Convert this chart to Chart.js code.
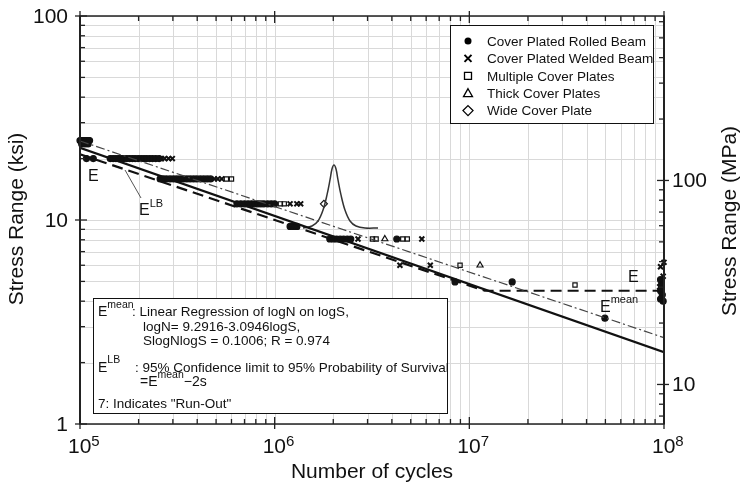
<!DOCTYPE html>
<html>
<head>
<meta charset="utf-8">
<script src="https://cdn.jsdelivr.net/npm/chart.js@4.4.1/dist/chart.umd.min.js"></script>
<style>
  html, body { margin: 0; padding: 0; background: #fff; }
  #chart { display: block; }
</style>
</head>
<body>
<canvas id="chart" width="740" height="488"></canvas>
<script>
// axes
const xDecades = [1e5, 1e6, 1e7, 1e8];
const xExponents = ["5", "6", "7", "8"];
const yDecades = [1, 10, 100];
const yLabels = ["1", "10", "100"];
const mpaDecades = [10, 100];
const mpaLabels = ["10", "100"];
const minorSteps = [2, 3, 4, 5, 6, 7, 8, 9];
const MPA_MIN = 6.4, MPA_MAX = 640;

// Cover Plated Rolled Beam (filled circles)
const rolledN = [1.0e5, 1.015e5, 1.03e5, 1.045e5, 1.06e5, 1.075e5, 1.09e5, 1.105e5, 1.12e5, 1.02e5, 1.06e5, 1.1e5,
  1.08e5, 1.17e5,
  1.43e5, 1.48e5, 1.53e5, 1.58e5, 1.63e5, 1.68e5, 1.74e5, 1.8e5, 1.86e5, 1.92e5, 1.99e5, 2.06e5, 2.13e5, 2.2e5, 2.28e5, 2.36e5, 2.45e5, 2.55e5,
  2.58e5, 2.68e5, 2.78e5, 2.9e5, 3.02e5, 3.14e5, 3.27e5, 3.4e5, 3.54e5, 3.68e5, 3.83e5, 3.98e5, 4.15e5, 4.32e5, 4.5e5, 4.68e5,
  6.4e5, 6.7e5, 7.0e5, 7.3e5, 7.6e5, 7.9e5, 8.2e5, 8.5e5, 8.8e5, 9.2e5, 9.6e5, 1.0e6,
  1.2e6, 1.25e6, 1.3e6,
  1.92e6, 2.0e6, 2.08e6, 2.17e6, 2.26e6, 2.36e6, 2.46e6, 4.24e6,
  8.44e6, 1.66e7, 4.97e7,
  9.6e7, 9.7e7, 9.6e7, 9.8e7, 9.6e7, 9.9e7];
const rolledS = [24.5, 24.5, 24.5, 24.5, 24.5, 24.5, 24.5, 24.5, 24.5, 23.6, 23.6, 23.6,
  20, 20,
  20, 20, 20, 20, 20, 20, 20, 20, 20, 20, 20, 20, 20, 20, 20, 20, 20, 20,
  15.9, 15.9, 15.9, 15.9, 15.9, 15.9, 15.9, 15.9, 15.9, 15.9, 15.9, 15.9, 15.9, 15.9, 15.9, 15.9,
  12, 12, 12, 12, 12, 12, 12, 12, 12, 12, 12, 12,
  9.3, 9.3, 9.3,
  8.07, 8.07, 8.07, 8.07, 8.07, 8.07, 8.07, 8.07,
  4.97, 4.97, 3.3,
  5.1, 4.8, 4.5, 4.3, 4.1, 4.0];

// Cover Plated Welded Beam (crosses)
const weldedN = [2.62e5, 2.72e5, 2.85e5, 2.98e5, 4.9e5, 5.1e5, 5.35e5, 1.2e6, 1.3e6, 1.36e6, 2.68e6, 5.7e6, 4.4e6, 6.3e6, 1.0e8, 9.6e7, 9.9e7, 9.5e7];
const weldedS = [20, 20, 20, 20, 15.9, 15.9, 15.9, 12, 12, 12, 8.07, 8.07, 6.0, 6.0, 6.2, 5.9, 5.3, 4.7];

// Multiple Cover Plates (open squares)
const multipleN = [5.65e5, 6.0e5, 1.07e6, 1.12e6, 3.18e6, 3.32e6, 4.55e6, 4.8e6, 8.96e6, 3.49e7];
const multipleS = [15.9, 15.9, 12, 12, 8.07, 8.07, 8.07, 8.07, 6.0, 4.8];

// Thick Cover Plates (open triangles)
const thickN = [3.68e6, 1.135e7];
const thickS = [8.07, 6.0];

// Wide Cover Plate (open diamond)
const wideN = [1.79e6];
const wideS = [12];

// S-N curves
const meanN = [1e5, 1e8];
const meanS = [24.4, 2.65];
const lbN = [1e5, 1e8];
const lbS = [22.6, 2.25];
const catEN = [1e5, 1.2e7, 1e8];
const catES = [21.0, 4.5, 4.5];

// distribution sketch on the mean line
const gaussN = [1.398e6, 1.555e6, 1.67e6, 1.772e6, 1.857e6, 1.924e6, 1.97e6, 2.017e6, 2.066e6, 2.115e6, 2.191e6, 2.297e6, 2.438e6, 2.617e6, 2.911e6, 3.395e6];
const gaussS = [9.14, 9.35, 9.89, 11.19, 13.27, 15.71, 17.78, 18.61, 17.78, 15.71, 13.27, 11.19, 9.89, 9.35, 9.14, 9.14];

const legendNames = ["Cover Plated Rolled Beam", "Cover Plated Welded Beam", "Multiple Cover Plates", "Thick Cover Plates", "Wide Cover Plate"];
const legendMarkers = ["circle", "crossRot", "rect", "triangle", "rectRot"];

const FONT = "Arial, 'Liberation Sans', Helvetica, sans-serif";

function pts(ns, ss) {
  return ns.map((n, i) => ({ x: n, y: ss[i] }));
}

function withMinors(decades) {
  const out = [];
  decades.forEach((d, i) => {
    out.push(d);
    if (i < decades.length - 1) minorSteps.forEach((m) => out.push(d * m));
  });
  return out;
}

function mpaTicks() {
  const out = [];
  [1, 10, 100].forEach((d) => {
    [1, 2, 3, 4, 5, 6, 7, 8, 9].forEach((m) => {
      const v = d * m;
      if (v >= MPA_MIN && v <= MPA_MAX) out.push(v);
    });
  });
  return out;
}

function drawMarker(ctx, style, x, y, r) {
  ctx.save();
  ctx.lineWidth = 1.3;
  ctx.strokeStyle = "#000";
  ctx.fillStyle = "#000";
  ctx.beginPath();
  if (style === "circle") {
    ctx.arc(x, y, r, 0, Math.PI * 2);
    ctx.fill();
  } else if (style === "crossRot") {
    ctx.lineWidth = 2;
    ctx.moveTo(x - r, y - r); ctx.lineTo(x + r, y + r);
    ctx.moveTo(x + r, y - r); ctx.lineTo(x - r, y + r);
    ctx.stroke();
  } else if (style === "rect") {
    ctx.rect(x - r, y - r, 2 * r, 2 * r);
    ctx.stroke();
  } else if (style === "triangle") {
    ctx.moveTo(x, y - r - 1); ctx.lineTo(x + r + 1, y + r); ctx.lineTo(x - r - 1, y + r); ctx.closePath();
    ctx.stroke();
  } else if (style === "rectRot") {
    ctx.moveTo(x, y - r - 1.5); ctx.lineTo(x + r + 1.5, y); ctx.lineTo(x, y + r + 1.5); ctx.lineTo(x - r - 1.5, y); ctx.closePath();
    ctx.stroke();
  }
  ctx.restore();
}

function supText(ctx, base, sup, x, y, size, supSize, rise) {
  ctx.font = `${size}px ${FONT}`;
  ctx.fillText(base, x, y);
  const w = ctx.measureText(base).width;
  ctx.font = `${supSize}px ${FONT}`;
  ctx.fillText(sup, x + w, y - rise);
  return x + w + ctx.measureText(sup).width;
}

const framePlugin = {
  id: "frame",
  beforeDraw(chart) {
    const { ctx } = chart;
    ctx.save();
    ctx.fillStyle = "#fff";
    ctx.fillRect(0, 0, chart.width, chart.height);
    ctx.restore();
  },
  beforeDatasetsDraw(chart) {
    const { ctx, chartArea: a, scales } = chart;
    ctx.save();
    ctx.strokeStyle = "#d9d9d9";
    ctx.lineWidth = 1;
    withMinors(xDecades).forEach((v) => {
      const px = Math.round(scales.x.getPixelForValue(v)) + 0.5;
      ctx.beginPath(); ctx.moveTo(px, a.top); ctx.lineTo(px, a.bottom); ctx.stroke();
    });
    withMinors(yDecades).forEach((v) => {
      const py = Math.round(scales.y.getPixelForValue(v)) + 0.5;
      ctx.beginPath(); ctx.moveTo(a.left, py); ctx.lineTo(a.right, py); ctx.stroke();
    });
    ctx.restore();
  },
  afterDatasetsDraw(chart) {
    const { ctx, chartArea: a, scales } = chart;
    ctx.save();
    ctx.strokeStyle = "#222";
    ctx.fillStyle = "#222";

    // frame
    ctx.lineWidth = 1.5;
    ctx.strokeRect(a.left, a.top, a.right - a.left, a.bottom - a.top);
    ctx.lineWidth = 2;
    ctx.beginPath(); ctx.moveTo(a.left, a.top); ctx.lineTo(a.left, a.bottom); ctx.stroke();
    ctx.beginPath(); ctx.moveTo(a.right, a.top); ctx.lineTo(a.right, a.bottom); ctx.stroke();

    // ticks
    ctx.lineWidth = 1.3;
    withMinors(xDecades).forEach((v) => {
      const px = scales.x.getPixelForValue(v);
      const major = xDecades.includes(v);
      ctx.beginPath();
      ctx.moveTo(px, a.bottom + (major ? 5 : 0)); ctx.lineTo(px, a.bottom - (major ? 7 : 5));
      ctx.moveTo(px, a.top - (major ? 5 : 0)); ctx.lineTo(px, a.top + (major ? 7 : 5));
      ctx.stroke();
    });
    withMinors(yDecades).forEach((v) => {
      const py = scales.y.getPixelForValue(v);
      const major = yDecades.includes(v);
      ctx.beginPath();
      ctx.moveTo(a.left - (major ? 5 : 0), py); ctx.lineTo(a.left + (major ? 7 : 5), py);
      ctx.stroke();
    });
    mpaTicks().forEach((v) => {
      const py = scales.y2.getPixelForValue(v);
      const major = mpaDecades.includes(v);
      ctx.beginPath();
      ctx.moveTo(a.right + (major ? 5 : 0), py); ctx.lineTo(a.right - (major ? 7 : 5), py);
      ctx.stroke();
    });

    // tick labels
    ctx.fillStyle = "#111";
    ctx.textBaseline = "alphabetic";
    ctx.textAlign = "left";
    xDecades.forEach((v, i) => {
      const px = scales.x.getPixelForValue(v);
      supText(ctx, "10", xExponents[i], px - 12, 453, 21, 15, 7);
    });
    ctx.font = `21px ${FONT}`;
    ctx.textAlign = "right";
    ctx.textBaseline = "middle";
    yDecades.forEach((v, i) => {
      ctx.fillText(yLabels[i], 68, scales.y.getPixelForValue(v) + 1);
    });
    ctx.textAlign = "left";
    mpaDecades.forEach((v, i) => {
      ctx.fillText(mpaLabels[i], a.right + 8, scales.y2.getPixelForValue(v) + 1);
    });

    // axis titles
    ctx.font = `21px ${FONT}`;
    ctx.textAlign = "center";
    ctx.textBaseline = "alphabetic";
    ctx.fillText("Number of cycles", (a.left + a.right) / 2, 478);
    ctx.textBaseline = "middle";
    ctx.save();
    ctx.translate(17, 219);
    ctx.rotate(-Math.PI / 2);
    ctx.fillText("Stress Range (ksi)", 0, 0);
    ctx.restore();
    ctx.save();
    ctx.translate(730, 221);
    ctx.rotate(-Math.PI / 2);
    ctx.fillText("Stress Range (MPa)", 0, 0);
    ctx.restore();

    // curve labels
    ctx.textAlign = "left";
    ctx.textBaseline = "alphabetic";
    ctx.font = `16px ${FONT}`;
    ctx.fillText("E", 88, 181);
    supText(ctx, "E", "LB", 139, 215, 16, 11, 8);
    supText(ctx, "E", "", 628, 282, 16, 11, 8);
    supText(ctx, "E", "mean", 600, 312, 16, 11, 9);
    ctx.strokeStyle = "#555";
    ctx.lineWidth = 1;
    ctx.beginPath(); ctx.moveTo(125, 170); ctx.lineTo(141, 198); ctx.stroke();

    // legend box
    ctx.fillStyle = "#fff";
    ctx.fillRect(450, 25, 203, 98);
    ctx.strokeStyle = "#111";
    ctx.lineWidth = 1;
    ctx.strokeRect(450.5, 25.5, 203, 98);
    ctx.fillStyle = "#111";
    ctx.font = `13.5px ${FONT}`;
    ctx.textBaseline = "middle";
    legendNames.forEach((name, i) => {
      const y = 41 + i * 17.4;
      drawMarker(ctx, legendMarkers[i], 468, y, i === 0 ? 3.5 : 3.5);
      ctx.fillStyle = "#111";
      ctx.fillText(name, 487, y + 1);
    });

    // regression note box
    ctx.fillStyle = "#fff";
    ctx.fillRect(93, 298, 354, 115);
    ctx.strokeRect(93.5, 298.5, 354, 115);
    ctx.fillStyle = "#111";
    ctx.textBaseline = "alphabetic";
    supText(ctx, "E", "mean", 98, 316, 14, 10.5, 8);
    ctx.font = `13.5px ${FONT}`;
    ctx.fillText(": Linear Regression of logN on logS,", 132, 316);
    ctx.fillText("logN= 9.2916-3.0946logS,", 143, 331);
    ctx.fillText("SlogNlogS = 0.1006; R = 0.974", 143, 345);
    supText(ctx, "E", "LB", 98, 372, 14, 10.5, 9);
    ctx.font = `13.5px ${FONT}`;
    ctx.fillText(": 95% Confidence limit to 95% Probability of Survival", 135, 372);
    const xe = supText(ctx, "=E", "mean", 140, 386, 14, 10.5, 8);
    ctx.font = `14px ${FONT}`;
    ctx.fillText("\u22122s", xe, 386);
    ctx.font = `13.5px ${FONT}`;
    ctx.fillText("7: Indicates \"Run-Out\"", 98, 408);

    ctx.restore();
  },
};

function scatterSet(ns, ss, style, radius, filled) {
  return {
    data: pts(ns, ss),
    pointStyle: style,
    pointRadius: radius,
    borderColor: "#111",
    backgroundColor: filled ? "#111" : "rgba(0,0,0,0)",
    borderWidth: style === "crossRot" ? 2 : 1.2,
    showLine: false,
    clip: false,
  };
}

function lineSet(ns, ss, dash, width, color) {
  return {
    data: pts(ns, ss),
    showLine: true,
    borderColor: color,
    borderWidth: width,
    borderDash: dash,
    pointRadius: 0,
    fill: false,
  };
}

const gaussSet = lineSet(gaussN, gaussS, [], 1.5, "#333");
gaussSet.tension = 0.35;

new Chart(document.getElementById("chart").getContext("2d"), {
  type: "scatter",
  data: {
    datasets: [
      lineSet(meanN, meanS, [9, 3, 2, 3], 1.2, "#444"),
      lineSet(lbN, lbS, [], 2.2, "#111"),
      lineSet(catEN, catES, [11, 6], 2.2, "#111"),
      gaussSet,
      scatterSet(rolledN, rolledS, "circle", 3, true),
      scatterSet(weldedN, weldedS, "crossRot", 3.5, false),
      scatterSet(multipleN, multipleS, "rect", 3, false),
      scatterSet(thickN, thickS, "triangle", 3.5, false),
      scatterSet(wideN, wideS, "rectRot", 3.5, false),
    ],
  },
  options: {
    responsive: false,
    animation: false,
    layout: { padding: { left: 80, top: 16, right: 76, bottom: 64 } },
    plugins: { legend: { display: false }, tooltip: { enabled: false } },
    scales: {
      x: { type: "logarithmic", min: 1e5, max: 1e8, display: false },
      y: { type: "logarithmic", min: 1, max: 100, display: false },
      y2: { type: "logarithmic", position: "right", min: MPA_MIN, max: MPA_MAX, display: false },
    },
  },
  plugins: [framePlugin],
});
</script>
</body>
</html>
